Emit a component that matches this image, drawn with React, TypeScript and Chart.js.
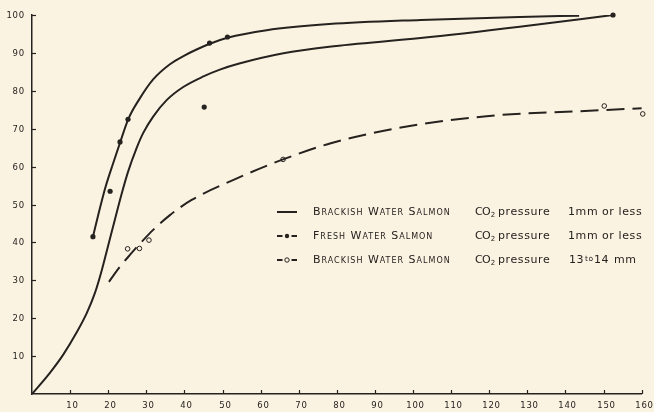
import React, { useEffect, useRef } from "react";
import { Chart, registerables } from "chart.js";

Chart.register(...registerables);

// ---- data ----
const xTickValues = [0, 10, 20, 30, 40, 50, 60, 70, 80, 90, 100, 110, 120, 130, 140, 150, 160];
const yTickValues = [0, 10, 20, 30, 40, 50, 60, 70, 80, 90, 100];

// Fresh water salmon, CO2 pressure 1mm or less: observations (filled dots)
const freshPtsX = [16, 20.5, 23.1, 25.2, 45.2, 46.6, 51.3, 152.5];
const freshPtsY = [41.5, 53.5, 66.5, 72.5, 75.7, 92.6, 94.2, 100];
// Fresh water salmon: fitted curve
const freshCurveX = [16, 17.4, 19.2, 21.3, 23.2, 25.3, 28.3, 31.8, 36.2, 40, 43.2, 46.7, 51.3, 61.6, 78, 102, 128, 143.6];
const freshCurveY = [41.5, 47.3, 54.3, 60.9, 66.6, 72.6, 78.0, 83.0, 87.0, 89.3, 90.9, 92.4, 94.0, 96.0, 97.6, 98.7, 99.5, 99.8];

// Brackish water salmon, CO2 pressure 1mm or less: fitted curve
const brackLowCurveX = [0, 4.7, 8.2, 11.7, 14.4, 16.5, 18.3, 20, 21.8, 23.5, 25.2, 27.5, 29.2, 31.8, 35.4, 39.7, 45, 49.3, 54.4, 66, 78, 102, 128, 152.5];
const brackLowCurveY = [0, 5.6, 10.4, 16.2, 21.4, 26.6, 32.6, 39.2, 46.2, 52.7, 58.6, 65.0, 68.9, 73.2, 77.6, 81.0, 83.8, 85.6, 87.2, 89.9, 91.6, 93.9, 96.9, 100];

// Brackish water salmon, CO2 pressure 13 to 14 mm: observations (open circles)
const brackHighPtsX = [25.1, 28.2, 30.7, 65.9, 150.2, 160.3];
const brackHighPtsY = [38.3, 38.4, 40.6, 61.9, 76.0, 73.9];
// Brackish water salmon, 13 to 14 mm: fitted curve
const brackHighCurveX = [20.2, 23.1, 25.7, 29.2, 31.8, 36.2, 41.9, 52.9, 65.9, 78.2, 95.7, 119.3, 150, 160.3];
const brackHighCurveY = [29.6, 33.6, 36.7, 40.6, 43.3, 47.2, 51.2, 56.5, 61.9, 66.1, 70.1, 73.3, 74.9, 75.4];

const legendNames = ["Brackish Water Salmon", "Fresh Water Salmon", "Brackish Water Salmon"];

const INK = "#25221f";
const PAPER = "#fbf3e2";
const FONT = '"DejaVu Sans", sans-serif';

const zip = (xs: number[], ys: number[]) => xs.map((x, i) => ({ x, y: ys[i] }));

const setSpacing = (ctx: any, s: string) => {
  try { ctx.letterSpacing = s; } catch (e) {}
};

const axisDecor = {
  id: "axisDecor",
  afterDraw(chart: any) {
    const { ctx, chartArea } = chart;
    const xs = chart.scales.x;
    const ys = chart.scales.y;
    ctx.save();
    ctx.strokeStyle = INK;
    ctx.fillStyle = INK;
    ctx.lineWidth = 1.2;
    ctx.font = `8.5px ${FONT}`;
    setSpacing(ctx, "0.8px");
    xTickValues.forEach((v) => {
      if (v === 0) return;
      const px = Math.round(xs.getPixelForValue(v)) + 0.5;
      ctx.beginPath();
      ctx.moveTo(px, chartArea.bottom);
      ctx.lineTo(px, chartArea.bottom - 4);
      ctx.stroke();
      ctx.textAlign = "center";
      ctx.textBaseline = "middle";
      ctx.fillText(String(v), px + 2, 406);
    });
    yTickValues.forEach((v) => {
      if (v === 0) return;
      const py = Math.round(ys.getPixelForValue(v)) + 0.5;
      ctx.beginPath();
      ctx.moveTo(chartArea.left, py);
      ctx.lineTo(chartArea.left + 4, py);
      ctx.stroke();
      ctx.textAlign = "right";
      ctx.textBaseline = "middle";
      ctx.fillText(String(v), 25, py);
    });
    ctx.restore();
  },
};

const legendPlugin = {
  id: "customLegend",
  afterDraw(chart: any) {
    const { ctx } = chart;
    const rows = [212, 236, 260];
    ctx.save();
    ctx.strokeStyle = INK;
    ctx.fillStyle = INK;
    ctx.lineWidth = 2;
    ctx.textBaseline = "middle";
    ctx.textAlign = "left";

    // markers
    rows.forEach((y, i) => {
      ctx.beginPath();
      if (i === 0) {
        ctx.moveTo(277, y);
        ctx.lineTo(297, y);
        ctx.stroke();
      } else {
        ctx.moveTo(277, y);
        ctx.lineTo(282.5, y);
        ctx.moveTo(291.5, y);
        ctx.lineTo(297, y);
        ctx.stroke();
        ctx.beginPath();
        ctx.arc(287, y, 2.2, 0, Math.PI * 2);
        if (i === 1) {
          ctx.fill();
        } else {
          ctx.fillStyle = PAPER;
          ctx.fill();
          ctx.lineWidth = 1;
          ctx.stroke();
          ctx.fillStyle = INK;
          ctx.lineWidth = 2;
        }
      }
    });

    // names (small caps)
    ctx.font = `small-caps 11px ${FONT}`;
    setSpacing(ctx, "1px");
    rows.forEach((y, i) => {
      ctx.fillText(legendNames[i], 313, y);
    });

    // CO2 conditions
    rows.forEach((y, i) => {
      setSpacing(ctx, "-0.6px");
      ctx.font = `11px ${FONT}`;
      ctx.fillText("CO", 475, y);
      const w = ctx.measureText("CO").width;
      setSpacing(ctx, "0px");
      ctx.font = `7px ${FONT}`;
      ctx.fillText("2", 475 + w + 0.5, y + 3);
      setSpacing(ctx, "0.6px");
      ctx.font = `11px ${FONT}`;
      ctx.fillText("pressure", 498, y);
      if (i < 2) {
        ctx.fillText("1mm", 568, y);
        ctx.fillText("or less", 602, y);
      } else {
        ctx.fillText("13", 569, y);
        ctx.font = `7.5px ${FONT}`;
        ctx.fillText("to", 585, y - 1);
        ctx.font = `11px ${FONT}`;
        ctx.fillText("14", 594, y);
        ctx.fillText("mm", 614, y);
      }
    });
    ctx.restore();
  },
};

export default function App() {
  const canvasRef = useRef<HTMLCanvasElement | null>(null);

  useEffect(() => {
    if (!canvasRef.current) return;
    const curveBase = {
      showLine: true,
      pointRadius: 0,
      borderColor: INK,
      borderWidth: 2,
      cubicInterpolationMode: "monotone" as const,
      fill: false,
    };
    const chart = new Chart(canvasRef.current, {
      type: "scatter",
      data: {
        datasets: [
          { ...curveBase, label: "Fresh curve", data: zip(freshCurveX, freshCurveY) },
          { ...curveBase, label: "Brackish 1mm curve", data: zip(brackLowCurveX, brackLowCurveY) },
          {
            ...curveBase,
            label: "Brackish 13-14mm curve",
            data: zip(brackHighCurveX, brackHighCurveY),
            borderDash: [18, 8],
          },
          {
            label: "Fresh Water Salmon",
            data: zip(freshPtsX, freshPtsY),
            showLine: false,
            pointRadius: 2.6,
            pointBackgroundColor: INK,
            pointBorderColor: INK,
            pointBorderWidth: 0,
            clip: false,
          },
          {
            label: "Brackish Water Salmon 13-14mm",
            data: zip(brackHighPtsX, brackHighPtsY),
            showLine: false,
            pointRadius: 2.3,
            pointBackgroundColor: PAPER,
            pointBorderColor: INK,
            pointBorderWidth: 1,
            clip: false,
          },
        ],
      },
      options: {
        responsive: false,
        animation: false,
        events: [],
        layout: { padding: { top: 15, right: 12.4, left: 0, bottom: 0 } },
        plugins: {
          legend: { display: false },
          tooltip: { enabled: false },
        },
        scales: {
          x: {
            type: "linear",
            min: 0,
            max: 160,
            afterFit: (scale: any) => {
              scale.height = 18;
            },
            ticks: { display: false },
            grid: { display: false },
            border: { display: true, color: INK, width: 1.5 },
          },
          y: {
            type: "linear",
            min: 0,
            max: 100,
            afterFit: (scale: any) => {
              scale.width = 32;
            },
            ticks: { display: false },
            grid: { display: false },
            border: { display: true, color: INK, width: 1.5 },
          },
        },
      },
      plugins: [axisDecor, legendPlugin],
    });
    return () => chart.destroy();
  }, []);

  return (
    <div
      style={{
        position: "fixed",
        left: 0,
        top: 0,
        width: 654,
        height: 412,
        background: PAPER,
      }}
    >
      <canvas ref={canvasRef} width={654} height={412} style={{ display: "block" }} />
    </div>
  );
}
